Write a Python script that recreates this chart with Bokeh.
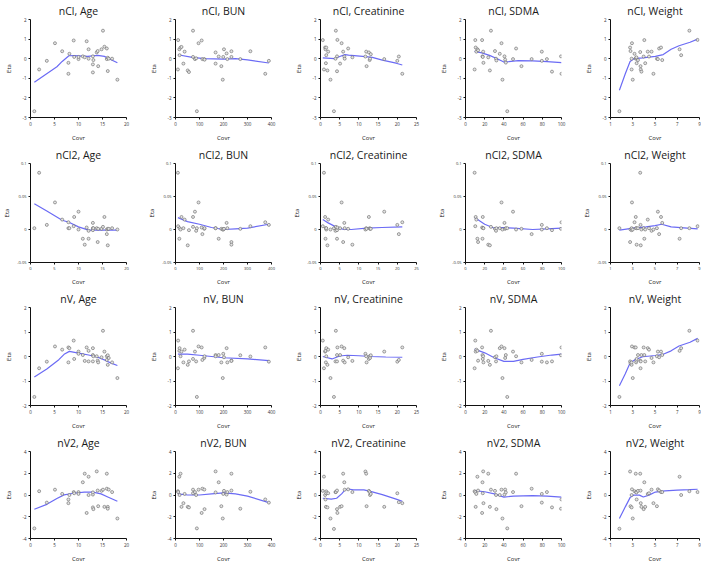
from bokeh.plotting import figure
from bokeh.layouts import gridplot
from bokeh.models import FixedTicker, Range1d
from bokeh.embed import file_html
from bokeh.resources import INLINE

# ---------------- covariates (x values, one array per column) ----------------
age = [0.8, 1.8, 3.4, 5.1, 6.6, 7.9, 7.9, 8.1, 9.0, 9.1, 10.0, 10.0, 10.9, 11.3, 11.7, 12.1, 12.1,
       13.0, 13.0, 13.0, 13.1, 13.8, 14.0, 14.1, 14.8, 15.1, 15.4, 15.9, 15.9, 16.1, 16.1, 16.3, 17.0, 18.1]
bun = [10, 11, 16, 17, 21, 25, 33, 38, 51, 56, 73, 73, 81, 86, 89, 96, 109, 112, 120, 121, 167, 167,
       180, 191, 197, 199, 202, 213, 216, 233, 233, 270, 312, 374, 389]
crea = [0.6, 0.9, 1.2, 1.3, 1.4, 1.5, 1.5, 1.8, 2.0, 2.6, 3.5, 3.9, 4.0, 4.3, 4.3, 4.4, 5.1, 5.5, 5.9,
        6.2, 6.3, 7.2, 8.3, 11.7, 11.9, 12.0, 12.6, 12.8, 12.9, 13.1, 16.6, 20.0, 20.4, 21.3]
sdma = [9.5, 10.2, 10.6, 11.3, 12.4, 13.1, 17.3, 17.7, 18.0, 18.4, 18.7, 23.7, 25.4, 26.5, 30.7, 31.8,
        32.2, 35.7, 37.5, 38.5, 40.6, 41.3, 42.0, 43.5, 49.5, 52.7, 58.3, 68.9, 79.5, 79.5, 84.8, 90.1, 99.5, 100.0]
wt = [1.8, 2.76, 2.8, 2.9, 2.9, 2.93, 3.0, 3.16, 3.27, 3.3, 3.33, 3.35, 3.47, 3.67, 3.7, 3.72, 3.78,
      3.98, 4.04, 4.12, 4.35, 4.46, 4.69, 4.86, 5.17, 5.26, 5.37, 5.54, 5.65, 7.21, 7.35, 8.09, 8.83]

# ---------------- eta values (y values, one array per panel) ----------------
cl_age = [-2.68, -0.55, -0.11, 0.79, 0.38, -0.21, -0.77, 0.25, 0.93, 0.09, -0.02, 0.09, 0.12, 0.07, 0.89,
          0.48, 0.0, 0.12, -0.29, -0.70, -0.07, 0.32, 0.39, -0.38, 0.48, 1.43, 0.61, 0.52, -0.02, -0.63,
          0.05, 0.0, 0.0, -1.07]
cl_bun = [-0.55, 0.95, 0.48, 0.18, 0.57, 0.6, -0.25, 0.36, -0.6, -0.68, 1.43, 0.09, -0.02, 0.02, -2.68,
          0.79, 0.93, -0.02, -0.02, -0.05, -0.25, 0.32, 0.11, -0.38, -1.07, 0.09, 0.48, 0.27, -0.02, 0.38,
          0.09, -0.02, 0.38, -0.77, -0.11]
cl_crea = [0.95, -0.55, 0.57, 0.48, -0.23, 0.57, 0.18, -0.6, 0.36, -1.07, -2.68, 0.0, 1.43, -0.64, 0.12,
           0.96, -0.25, 0.79, 0.36, 0.11, 0.0, 0.52, 0.07, 0.11, 0.36, -0.38, 0.32, -0.07, 0.0, 0.23,
           -0.02, -0.11, 0.11, -0.77]
cl_sdma = [-0.55, 0.95, 0.57, 0.36, 0.48, 0.43, 0.95, 0.12, 0.09, 0.36, -0.21, 0.07, -0.6, 1.43, 0.39,
           0.0, -0.09, 0.25, 0.79, -1.07, 0.12, -0.05, -0.2, -2.68, -0.02, 0.52, -0.38, -0.02, -0.11,
           0.36, -0.02, -0.66, 0.12, -0.77]
cl_wt = [-2.68, 0.57, 0.39, -0.55, 0.0, 0.79, -1.07, 0.25, 0.0, 0.04, 0.07, -0.23, -0.07, 0.34, -0.38,
         -0.55, -0.66, 0.11, 0.95, -0.23, 0.36, 0.11, 0.36, -0.77, 0.0, -0.02, 0.52, 0.57, -0.07, 0.48,
         0.18, 1.43, 0.96]

cl2_age = [0.002, 0.086, 0.007, 0.041, 0.015, 0.002, 0.011, 0.002, 0.005, 0.019, 0.027, 0.0, -0.014,
           -0.023, 0.003, -0.014, -0.002, 0.01, 0.002, -0.001, 0.002, 0.002, -0.019, 0.001, 0.001, 0.004,
           0.019, 0.0, -0.007, -0.024, 0.001, 0.001, 0.002, 0.0]
cl2_bun = [0.086, 0.005, -0.014, 0.002, 0.0, 0.019, 0.002, 0.015, -0.024, -0.001, 0.004, 0.019, 0.027,
           -0.002, 0.002, 0.041, 0.003, -0.007, 0.001, 0.002, 0.002, 0.002, -0.014, 0.001, 0.0, 0.0,
           0.001, 0.01, 0.002, -0.019, -0.023, 0.001, 0.005, 0.011, 0.007]
cl2_crea = [0.005, 0.086, 0.019, -0.014, 0.002, 0.0, 0.002, -0.024, 0.015, 0.0, 0.002, -0.002, 0.004,
            -0.001, -0.014, 0.003, 0.002, 0.041, -0.019, 0.01, 0.002, 0.001, -0.023, 0.0, 0.002, 0.001,
            0.019, 0.002, 0.001, 0.001, 0.027, 0.007, -0.007, 0.011]
cl2_sdma = [0.086, 0.005, 0.019, 0.015, -0.014, -0.019, 0.003, -0.014, 0.019, 0.002, 0.002, -0.023,
            -0.024, 0.004, 0.001, -0.002, 0.002, 0.002, 0.041, 0.0, 0.01, 0.001, 0.002, 0.002, 0.027,
            0.0, 0.001, -0.007, 0.007, 0.0, 0.002, -0.001, 0.001, 0.011]
cl2_wt = [0.002, -0.019, 0.0, -0.001, 0.002, 0.041, 0.0, 0.011, 0.019, 0.002, 0.002, -0.023, 0.002,
          0.086, 0.007, -0.024, 0.0, 0.002, -0.014, 0.0, 0.015, 0.002, -0.002, 0.0, 0.002, 0.027,
          -0.007, 0.019, 0.01, -0.014, 0.002, 0.002, 0.005]

v_age = [-1.65, -0.48, -0.21, 0.41, 0.28, -0.24, 0.37, 0.34, 0.65, -0.1, 0.2, 0.11, 0.06, -0.18, 0.37,
         0.23, -0.2, 0.34, 0.06, -0.2, 0.01, 0.01, -0.17, -0.24, -0.03, 1.05, 0.2, 0.01, -0.14, -0.34,
         0.05, -0.06, -0.24, -0.88]
v_bun = [-0.48, 0.65, 0.23, 0.34, 0.01, 0.2, -0.24, 0.28, -0.34, -0.2, 1.05, -0.1, 0.2, -0.2, -1.65,
         0.41, 0.37, -0.14, -0.06, 0.01, 0.06, 0.01, 0.06, -0.24, -0.88, 0.11, -0.03, 0.34, -0.24,
         -0.17, -0.18, 0.05, 0.0, 0.37, -0.21]
v_crea = [0.65, -0.48, 0.2, 0.23, -0.24, 0.01, 0.34, -0.34, 0.28, -0.88, -1.65, -0.2, 1.05, -0.2, 0.06,
          0.37, 0.06, 0.41, -0.17, 0.34, -0.24, -0.03, -0.18, 0.11, 0.01, -0.24, -0.1, 0.01, -0.06,
          0.05, 0.2, -0.21, -0.14, 0.37]
v_sdma = [-0.48, 0.65, 0.2, 0.28, 0.23, -0.17, 0.37, 0.06, -0.1, 0.01, -0.24, -0.18, -0.34, 1.05,
          -0.03, -0.2, 0.01, 0.34, 0.41, -0.88, 0.34, -0.06, 0.06, -1.65, 0.2, 0.01, -0.24, -0.14,
          -0.21, 0.11, -0.24, -0.2, 0.05, 0.37]
v_wt = [-1.65, -0.2, -0.27, -0.34, -0.24, 0.41, -0.88, 0.37, 0.37, -0.24, -0.17, -0.1, 0.06, -0.17,
        -0.48, -0.2, 0.06, 0.37, 0.06, -0.2, 0.34, 0.28, -0.06, -0.24, 0.01, 0.2, -0.03, 0.2, 0.06,
        0.23, 0.34, 1.05, 0.65]

v2_age = [-3.07, 0.35, -0.7, 0.49, 0.1, -0.75, -0.41, 0.0, 0.27, 0.16, 0.27, 0.1, 1.17, 1.96, -1.65,
          1.68, 0.0, 0.04, 0.24, -1.14, -1.3, 2.17, 0.41, -1.03, 0.38, 0.49, -1.09, 1.96, 0.58, -1.09,
          -1.26, 0.5, 0.27, -2.16]
v2_bun = [0.35, 0.27, 1.68, 0.0, 1.96, -1.09, -0.75, 0.1, -1.09, -1.14, 0.49, 0.16, 0.27, 0.0, -3.07,
          0.49, -1.65, 0.58, 0.5, -1.3, 0.24, 2.17, 1.17, -1.03, -2.16, 0.1, 0.38, 0.04, 0.27, 0.41,
          1.96, -1.26, 0.3, -0.41, -0.7]
v2_crea = [0.38, 1.69, 0.0, -0.41, -1.09, 0.33, 0.16, -1.14, 0.16, -2.16, -3.12, 0.27, 0.27, -1.3,
           0.41, -1.65, -1.09, -1.03, 1.96, 1.17, 0.49, 0.52, 0.27, 2.16, 1.96, -1.03, 0.38, 0.27, 0.0,
           0.1, -1.09, 0.16, -0.66, -0.75]
v2_sdma = [0.35, 0.27, -1.09, 0.1, 1.68, 0.41, -1.65, 1.17, 0.16, 2.17, -0.75, 1.96, -1.09, 0.49, 0.38,
           0.0, -1.3, 0.0, 0.49, -2.16, 0.04, 0.5, 0.24, -3.07, 0.27, 1.96, -1.03, 0.58, -0.7, 0.1,
           0.27, -1.14, -1.26, -0.41]
v2_wt = [-3.1, 2.16, -1.03, -1.14, 0.0, 0.52, -2.16, 0.35, 1.96, 0.27, 0.24, -0.41, 0.38, 1.96, 0.4,
         -0.75, -1.09, -1.3, 1.17, -1.09, 0.1, 0.16, 0.49, -0.75, -1.03, 0.52, 0.41, 0.27, 0.27, 1.68,
         0.0, 0.35, 0.27]

# ---------------- smoother lines ----------------
sm_cl_age_x = [0.8, 5.5, 6.6, 8.0, 9.0, 11.9, 14.0, 15.4, 16.8, 18.1]
sm_cl_age_y = [-1.2, -0.41, -0.14, 0.15, 0.16, 0.12, 0.17, 0.12, -0.05, -0.21]
sm_cl_bun_x = [10, 70, 120, 200, 250, 300, 389]
sm_cl_bun_y = [0.2, 0.07, 0.0, -0.02, 0.0, -0.06, -0.22]
sm_cl_crea_x = [0.6, 3.7, 5.0, 6.4, 7.3, 11.7, 13.5, 16.1, 19.7, 21.3]
sm_cl_crea_y = [0.04, 0.0, 0.11, 0.21, 0.18, 0.11, 0.07, -0.07, -0.23, -0.32]
sm_cl_sdma_x = [9.5, 17, 25, 33, 40, 45, 55, 70, 85, 100]
sm_cl_sdma_y = [0.37, 0.3, 0.17, 0.0, -0.17, -0.15, -0.1, -0.11, -0.15, -0.2]
sm_cl_wt_x = [1.8, 2.33, 2.76, 3.1, 3.9, 5.03, 5.74, 6.45, 7.16, 8.15, 8.83]
sm_cl_wt_y = [-1.61, -0.77, -0.14, 0.0, 0.04, 0.12, 0.21, 0.48, 0.66, 0.84, 1.0]

sm_cl2_age_x = [0.8, 3.4, 6.6, 8.0, 10.0, 12.1, 14.0, 16.0, 18.1]
sm_cl2_age_y = [0.039, 0.028, 0.014, 0.011, 0.004, -0.001, -0.001, -0.001, -0.001]
sm_cl2_bun_x = [10, 50, 100, 150, 200, 250, 300, 389]
sm_cl2_bun_y = [0.018, 0.012, 0.008, 0.003, 0.0, 0.001, 0.002, 0.008]
sm_cl2_crea_x = [0.6, 2, 4, 6, 8, 12, 16, 21.3]
sm_cl2_crea_y = [0.015, 0.01, 0.004, 0.0, 0.0, 0.002, 0.003, 0.004]
sm_cl2_sdma_x = [9.5, 20, 30, 40, 50, 70, 85, 100]
sm_cl2_sdma_y = [0.018, 0.008, 0.002, 0.003, 0.002, 0.0, 0.001, 0.002]
sm_cl2_wt_x = [1.8, 3.04, 4.2, 5.0, 5.6, 6.45, 7.9, 8.83]
sm_cl2_wt_y = [-0.001, 0.002, 0.004, 0.006, 0.008, 0.004, 0.002, 0.001]

sm_v_age_x = [0.8, 3.4, 5.9, 7.0, 8.1, 10.0, 12.1, 14.0, 15.4, 16.8, 18.1]
sm_v_age_y = [-0.84, -0.51, -0.13, 0.09, 0.21, 0.14, 0.06, -0.03, -0.14, -0.27, -0.37]
sm_v_bun_x = [10, 50, 100, 150, 200, 300, 389]
sm_v_bun_y = [0.1, 0.1, 0.05, 0.0, -0.05, -0.1, -0.17]
sm_v_crea_x = [0.6, 3, 5, 7, 10, 13, 17, 21.3]
sm_v_crea_y = [0.0, -0.1, 0.02, 0.05, 0.03, 0.0, -0.02, -0.03]
sm_v_sdma_x = [9.5, 20, 30, 40, 50, 60, 75, 90, 100]
sm_v_sdma_y = [0.3, 0.15, -0.05, -0.2, -0.2, -0.12, -0.02, 0.06, 0.1]
sm_v_wt_x = [1.8, 2.33, 2.76, 3.2, 3.9, 5.03, 5.74, 6.45, 7.16, 8.15, 8.83]
sm_v_wt_y = [-1.19, -0.7, -0.27, -0.13, -0.01, 0.04, 0.09, 0.23, 0.43, 0.58, 0.74]

sm_v2_age_x = [0.8, 3.4, 5.5, 7.0, 9.0, 11.2, 13.0, 14.7, 16.1, 18.1]
sm_v2_age_y = [-1.31, -0.86, -0.32, 0.01, 0.16, 0.27, 0.27, 0.1, -0.18, -0.58]
sm_v2_bun_x = [10, 50, 100, 150, 200, 250, 300, 389]
sm_v2_bun_y = [0.1, 0.0, 0.0, 0.1, 0.2, 0.1, -0.1, -0.7]
sm_v2_crea_x = [0.6, 2.8, 4.2, 5.5, 6.4, 7.3, 8.6, 11.3, 13.0, 16.1, 19.7, 21.3]
sm_v2_crea_y = [-0.3, -0.38, -0.3, 0.1, 0.47, 0.55, 0.47, 0.47, 0.33, 0.04, -0.38, -0.58]
sm_v2_sdma_x = [9.5, 20, 30, 40, 50, 70, 85, 100]
sm_v2_sdma_y = [0.4, 0.3, 0.1, -0.2, -0.1, -0.05, -0.1, -0.2]
sm_v2_wt_x = [1.8, 2.33, 2.76, 3.1, 3.6, 3.95, 4.46, 5.03, 5.9, 7.0, 8.15, 8.83]
sm_v2_wt_y = [-2.16, -1.09, -0.24, 0.0, -0.01, -0.18, -0.01, 0.27, 0.38, 0.44, 0.49, 0.53]

# ---------------- axis definitions ----------------
col_names = ["Age", "BUN", "Creatinine", "SDMA", "Weight"]
col_ranges = [(0, 20), (0, 400), (0, 25), (0, 100), (1, 9)]
col_ticks = [[0, 5, 10, 15, 20], [0, 100, 200, 300, 400], [0, 5, 10, 15, 20, 25],
             [0, 20, 40, 60, 80, 100], [1, 3, 5, 7, 9]]
row_names = ["nCl", "nCl2", "nV", "nV2"]
row_ranges = [(-3, 2), (-0.05, 0.1), (-2, 2), (-4, 4)]
row_ticks = [[-3, -2, -1, 0, 1, 2], [-0.05, 0, 0.05, 0.1], [-2, -1, 0, 1, 2], [-4, -2, 0, 2, 4]]
row_tick_labels = [["-3", "-2", "-1", "0", "1", "2"], ["-0.05", "0", "0.05", "0.1"],
                   ["-2", "-1", "0", "1", "2"], ["-4", "-2", "0", "2", "4"]]

xs = [age, bun, crea, sdma, wt]
ys = [[cl_age, cl_bun, cl_crea, cl_sdma, cl_wt],
      [cl2_age, cl2_bun, cl2_crea, cl2_sdma, cl2_wt],
      [v_age, v_bun, v_crea, v_sdma, v_wt],
      [v2_age, v2_bun, v2_crea, v2_sdma, v2_wt]]
sms = [[(sm_cl_age_x, sm_cl_age_y), (sm_cl_bun_x, sm_cl_bun_y), (sm_cl_crea_x, sm_cl_crea_y),
        (sm_cl_sdma_x, sm_cl_sdma_y), (sm_cl_wt_x, sm_cl_wt_y)],
       [(sm_cl2_age_x, sm_cl2_age_y), (sm_cl2_bun_x, sm_cl2_bun_y), (sm_cl2_crea_x, sm_cl2_crea_y),
        (sm_cl2_sdma_x, sm_cl2_sdma_y), (sm_cl2_wt_x, sm_cl2_wt_y)],
       [(sm_v_age_x, sm_v_age_y), (sm_v_bun_x, sm_v_bun_y), (sm_v_crea_x, sm_v_crea_y),
        (sm_v_sdma_x, sm_v_sdma_y), (sm_v_wt_x, sm_v_wt_y)],
       [(sm_v2_age_x, sm_v2_age_y), (sm_v2_bun_x, sm_v2_bun_y), (sm_v2_crea_x, sm_v2_crea_y),
        (sm_v2_sdma_x, sm_v2_sdma_y), (sm_v2_wt_x, sm_v2_wt_y)]]

FONT = "Open Sans"
widths = [145, 145, 145, 145, 121]
heights = [144, 144, 144, 133]
LEFT, TOP = 24, 18
RIGHT = [19, 19, 19, 19, 2]
BOTTOM = [23, 23, 23, 13]

grid = []
for r in range(4):
    row = []
    for c in range(5):
        w, h = widths[c], heights[r]
        p = figure(width=w, height=h, output_backend="svg", toolbar_location=None,
                   x_range=Range1d(*col_ranges[c]), y_range=Range1d(*row_ranges[r]),
                   title=f"{row_names[r]}, {col_names[c]}",
                   min_border_left=LEFT, min_border_right=RIGHT[c],
                   min_border_top=TOP, min_border_bottom=BOTTOM[r])
        p.title.text_font = FONT
        p.title.text_font_size = "10.5px"
        p.title.text_font_style = "normal"
        p.title.text_color = "#1a1a1a"
        p.title.align = "center"
        p.title.standoff = 3
        p.title.offset = 0
        p.outline_line_color = None
        p.xgrid.grid_line_color = None
        p.ygrid.grid_line_color = None
        p.background_fill_color = "white"
        p.border_fill_color = "white"

        p.xaxis.ticker = FixedTicker(ticks=col_ticks[c])
        p.xaxis.major_label_overrides = {t: str(t) for t in col_ticks[c]}
        p.yaxis.ticker = FixedTicker(ticks=row_ticks[r])
        p.yaxis.major_label_overrides = dict(zip(row_ticks[r], row_tick_labels[r]))
        p.xaxis.axis_label = "Covr"
        p.yaxis.axis_label = "Eta"
        for ax in (p.xaxis[0], p.yaxis[0]):
            ax.axis_line_color = "#111111"
            ax.axis_line_width = 1
            ax.major_tick_line_color = "#111111"
            ax.major_tick_out = 2
            ax.major_tick_in = 0
            ax.minor_tick_line_color = None
            ax.major_label_text_font = FONT
            ax.major_label_text_font_size = "4.5px" if r != 1 else "4px"
            ax.major_label_text_color = "#333333"
            ax.major_label_standoff = 2
            ax.axis_label_text_font = FONT
            ax.axis_label_text_font_size = "6px"
            ax.axis_label_text_font_style = "normal"
            ax.axis_label_text_color = "#1a1a1a"
        p.xaxis.axis_label_standoff = 5
        p.yaxis.axis_label_standoff = 6 if r != 1 else 3

        sx, sy = sms[r][c]
        p.line(sx, sy, line_color="#6b6bf5", line_width=1.2)
        p.scatter(xs[c], ys[r][c], marker="circle", size=3.0, line_color="#666666",
                  fill_color="#e3e3e3", line_width=0.6)
        row.append(p)
    grid.append(row)

layout = gridplot(grid, toolbar_location=None)
open("out.html", "w").write(file_html(layout, INLINE))
